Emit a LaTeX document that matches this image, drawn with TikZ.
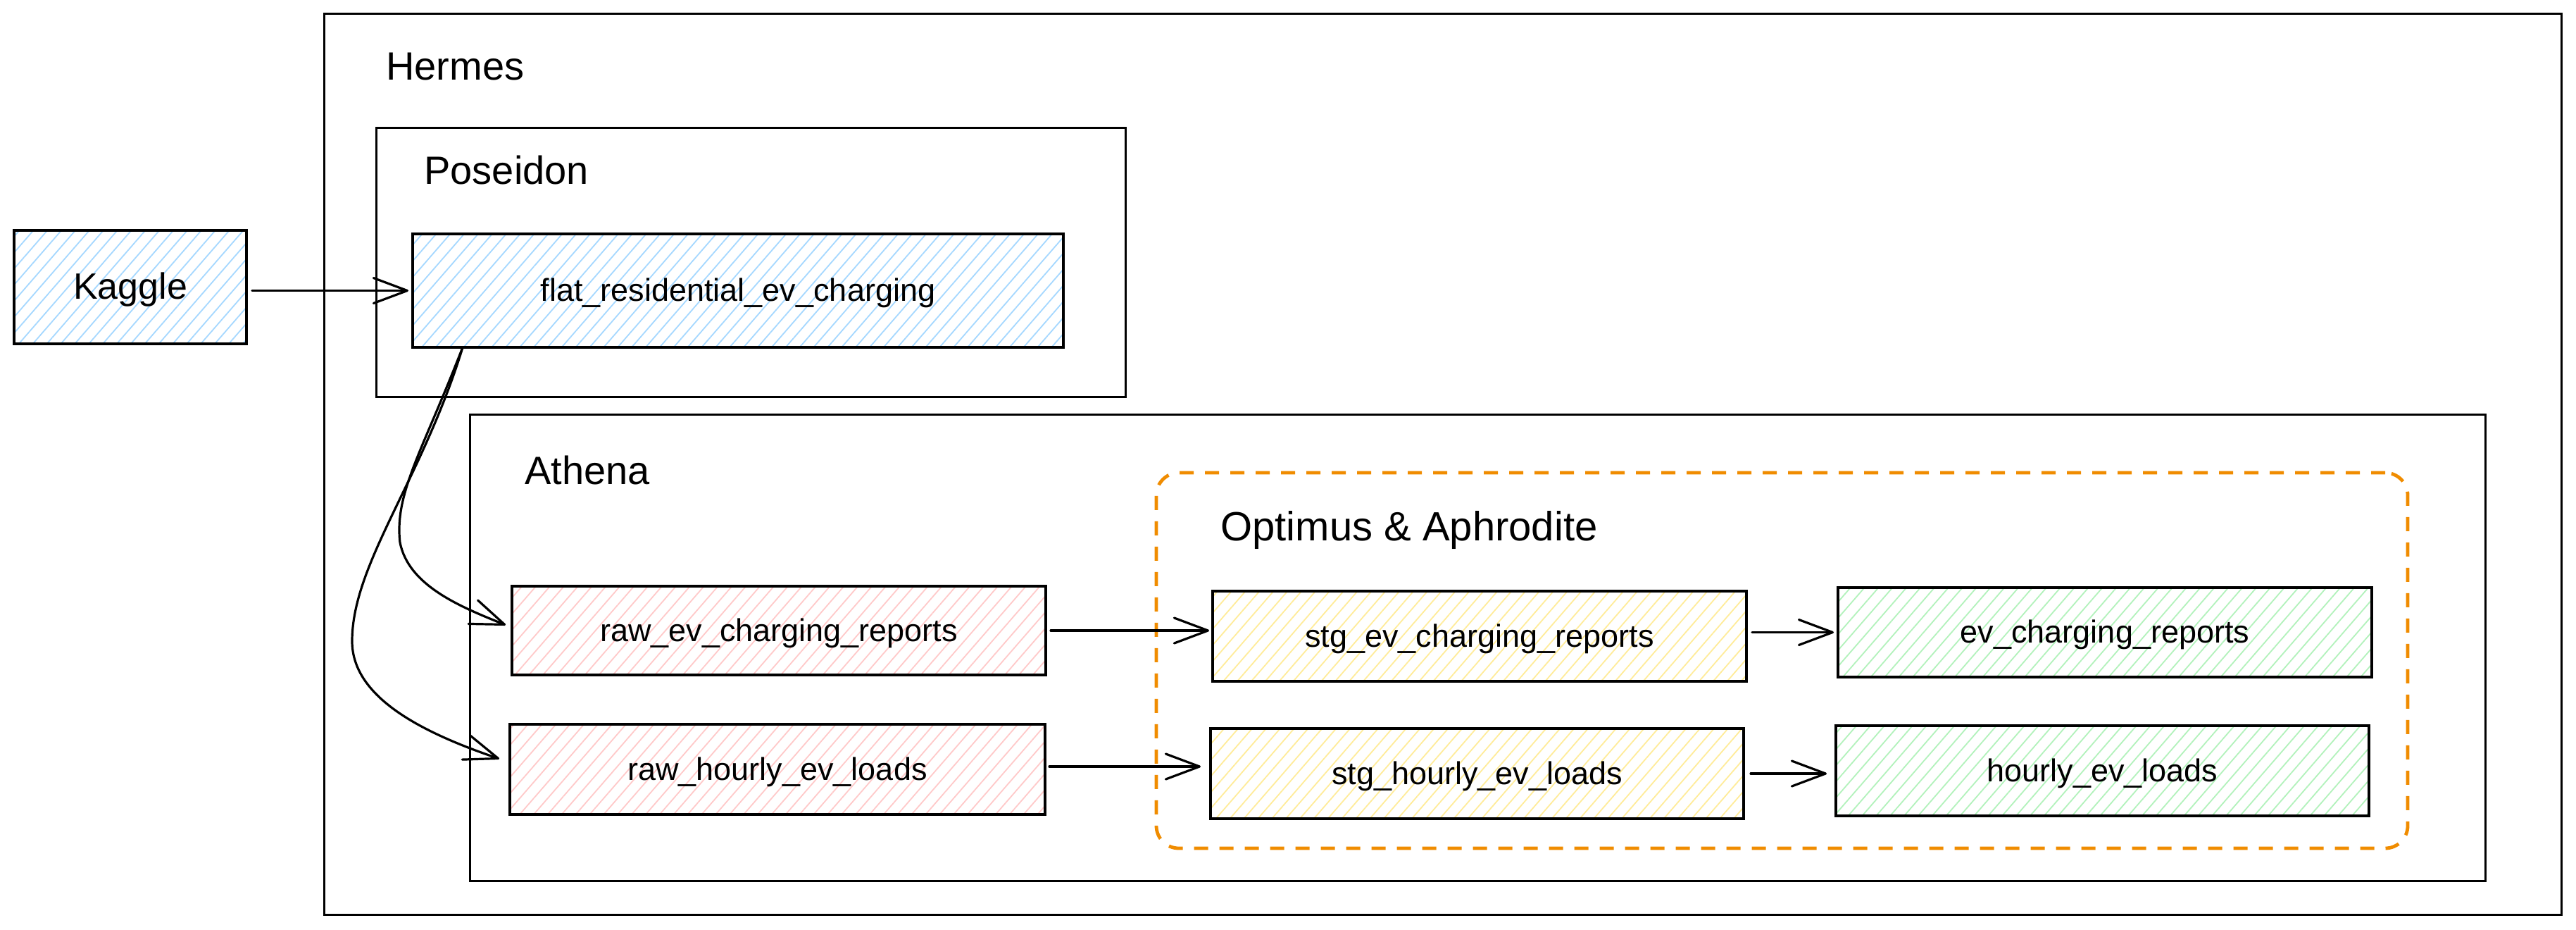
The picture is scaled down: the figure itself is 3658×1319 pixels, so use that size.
\documentclass[tikz,border=0pt]{standalone}
\usepackage{fontspec}
\setmainfont{Liberation Sans}
\usetikzlibrary{patterns.meta,arrows.meta,calc}
\definecolor{hblue}{HTML}{A5D8FF}
\definecolor{hred}{HTML}{FFC9C9}
\definecolor{hyellow}{HTML}{FFEC99}
\definecolor{hgreen}{HTML}{B2F2BB}
\definecolor{dorange}{HTML}{F08C00}
\tikzset{
  box/.style={draw=black, line width=1.6pt, inner sep=0pt, outer sep=0pt,
    font=\fontsize{22.5}{27}\selectfont, text height=17pt, text depth=2pt,
    pattern={Lines[angle=49,distance=7.5pt,line width=0.9pt]}},
  bluebox/.style={box, pattern color=hblue},
  redbox/.style={box, pattern color=hred},
  yellowbox/.style={box, pattern color=hyellow},
  greenbox/.style={box, pattern color=hgreen},
  container/.style={draw=black, line width=1.5pt, inner sep=0pt, outer sep=0pt},
  grouping/.style={draw=dorange, line width=2.4pt, dash pattern=on 10pt off 8pt,
    rounded corners=16pt, inner sep=0pt, outer sep=0pt},
  title/.style={anchor=base west, inner sep=0pt, font=\fontsize{28}{34}\selectfont},
  arr/.style={draw=black, line width=1.6pt, line cap=round,
    -{Straight Barb[length=24pt,width=18pt,line cap=round,line join=round]}}
}
\begin{document}
\begin{tikzpicture}[x=0.5pt,y=-0.5pt]
\useasboundingbox[fill=white] (0,0) rectangle (3658,1319);
% containers
\node[container, minimum width=1588.5pt, minimum height=639.5pt] (hermes) at (2048.5,658.5) {};
\node[container, minimum width=532pt, minimum height=191pt] (poseidon) at (1066,372) {};
\node[container, minimum width=1431pt, minimum height=331pt] (athena) at (2098,919) {};
\node[grouping, minimum width=888.5pt, minimum height=266.5pt] (optimus) at (2530.5,937.5) {};
% titles
\node[title] (hermesT) at (548,113) {Hermes};
\node[title] (poseidonT) at (602,261) {Poseidon};
\node[title] (athenaT) at (745,687) {Athena};
\node[title, font=\fontsize{29}{35}\selectfont] (optimusT) at (1733,767) {Optimus \& Aphrodite};
% boxes
\node[bluebox, minimum width=165pt, minimum height=80.5pt, font=\fontsize{26}{31}\selectfont, text height=19pt, text depth=2pt] (kaggle) at (185,407.5) {Kaggle};
\node[bluebox, minimum width=462pt, minimum height=80.5pt] (flat) at (1048,412.5) {flat\_residential\_ev\_charging};
\node[redbox, minimum width=379pt, minimum height=63pt] (rawev) at (1106,895) {raw\_ev\_charging\_reports};
\node[redbox, minimum width=380pt, minimum height=64pt] (rawhr) at (1104,1092) {raw\_hourly\_ev\_loads};
\node[yellowbox, minimum width=379pt, minimum height=64pt] (stgev) at (2101,903) {stg\_ev\_charging\_reports};
\node[yellowbox, minimum width=378.5pt, minimum height=64pt] (stghr) at (2097.5,1098) {stg\_hourly\_ev\_loads};
\node[greenbox, minimum width=379pt, minimum height=63.5pt] (ev) at (2989,897.5) {ev\_charging\_reports};
\node[greenbox, minimum width=378.5pt, minimum height=64pt] (hr) at (2985.5,1094) {hourly\_ev\_loads};
% connectors
\draw[arr] ([xshift=4pt]kaggle.east |- flat.west) -- ([xshift=-3pt]flat.west);
\draw[arr] ([xshift=35.5pt]flat.south west) .. controls (600,640) and (560,700) .. (568,770)
  .. controls (580,830) and (650,860) .. ([xshift=-4.5pt,yshift=4pt]rawev.west);
\draw[arr] ([xshift=35.5pt]flat.south west) .. controls (600,680) and (500,800) .. (500,910)
  .. controls (500,990) and (600,1040) .. ([xshift=-7.5pt,yshift=7.5pt]rawhr.west);
\draw[arr] ([xshift=3.5pt]rawev.east) -- ([xshift=-2.5pt]stgev.west |- rawev.east);
\draw[arr] ($(rawhr.east)+(3pt,2pt)$) -- ($(stghr.west |- rawhr.east)+(-7pt,2pt)$);
\draw[arr] ([xshift=4pt]stgev.east |- ev.west) -- ([xshift=-3pt]ev.west);
\draw[arr] ([xshift=5pt]stghr.east) -- ([xshift=-6.5pt]hr.west |- stghr.east);
\end{tikzpicture}
\end{document}
